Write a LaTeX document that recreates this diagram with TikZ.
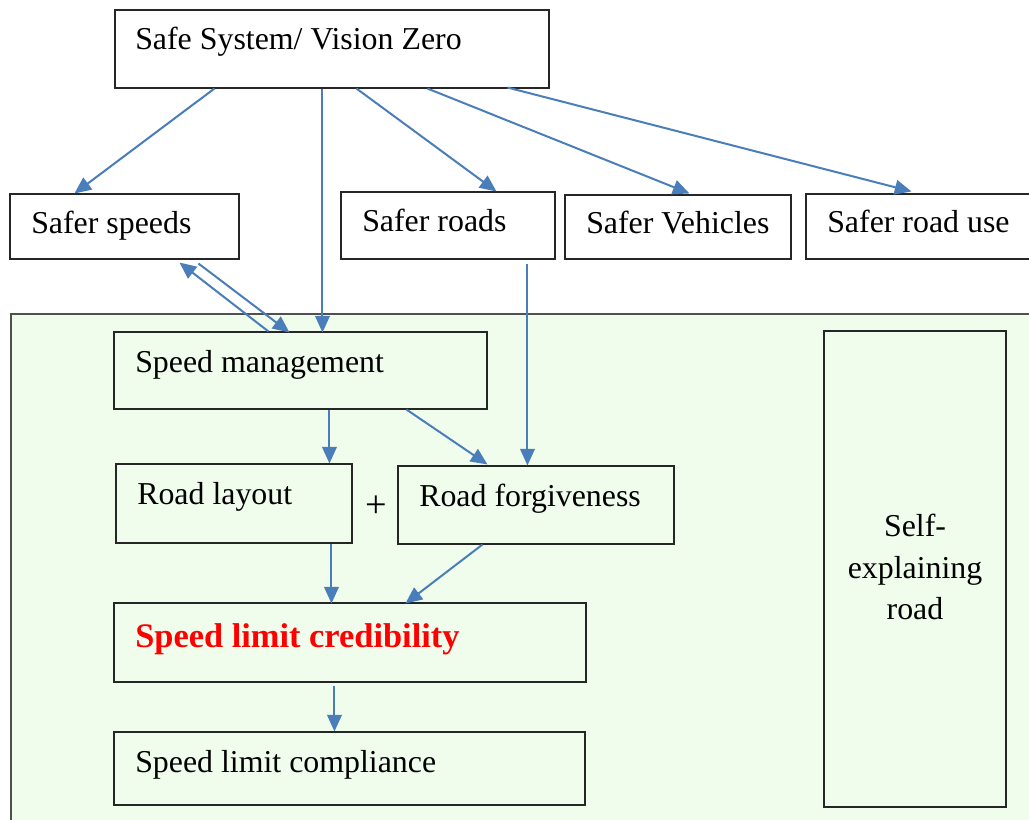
\documentclass[tikz,border=0pt]{standalone}
\usepackage{fontspec}
\setmainfont{Liberation Serif}
\usetikzlibrary{fit,calc,arrows.meta}
\definecolor{panelgreen}{RGB}{240,253,236}
\definecolor{arrowblue}{RGB}{74,126,187}
\definecolor{panelborder}{RGB}{80,80,80}
\tikzset{
  box/.style={draw=black!85, line width=0.8pt, rectangle, inner sep=0pt},
  whitebox/.style={box, fill=white},
  txt/.style={font=\fontsize{23.9pt}{28pt}\selectfont, inner sep=0pt, anchor=base west},
  ctxt/.style={txt, anchor=base},
  redtxt/.style={txt, font=\fontsize{25.8pt}{30pt}\selectfont\bfseries, text=red},
  conn/.style={draw=arrowblue, line width=1.5pt, -{Triangle[length=12.5pt,width=11pt]}}
}
\begin{document}
\begin{tikzpicture}[x=0.75pt,y=-0.75pt]
\clip (0,0) rectangle (1029,820);
\fill[white] (0,0) rectangle (1029,820);
% panel
\fill[panelgreen] (11,314) rectangle (1040,830);
\draw[panelborder, line width=1pt] (11,830) -- (11,314) -- (1040,314);

% top boxes
\node[whitebox, fit={(115,10) (549,88)}] (ss) {};
\node[txt] (ss-t) at (135,50) {Safe System/ Vision Zero};
\node[whitebox, fit={(10,194) (239,259)}] (sp) {};
\node[txt] (sp-t) at (31,234) {Safer speeds};
\node[whitebox, fit={(341,192) (555,259)}] (sr) {};
\node[txt] (sr-t) at (362,232) {Safer roads};
\node[whitebox, fit={(565,195) (791,259)}] (sv) {};
\node[txt] (sv-t) at (586,234) {Safer Vehicles};
\node[whitebox, fit={(806,194) (1040,259)}] (su) {};
\node[txt] (su-t) at (827,233) {Safer road use};

% inner boxes
\node[box, fit={(114,332) (487,409)}] (sm) {};
\node[txt] (sm-t) at (135,372) {Speed management};
\node[box, fit={(116,464) (352,543)}] (rl) {};
\node[txt] (rl-t) at (137,504) {Road layout};
\node[box, fit={(398,466) (674,544)}] (rf) {};
\node[txt] (rf-t) at (419,506) {Road forgiveness};
\node[ctxt, anchor=center, scale=1.2] (plus) at (376,507) {+};
\node[box, fit={(114,603) (586,682)}] (cr) {};
\node[redtxt] (cr-t) at (135,647) {Speed limit credibility};
\node[box, fit={(114,732) (585,805)}] (co) {};
\node[txt] (co-t) at (135,772) {Speed limit compliance};
\node[box, fit={(824,331) (1006,807)}] (se) {};
\node[ctxt] (se-t1) at (915,536) {Self-};
\node[ctxt] (se-t2) at (915,578) {explaining};
\node[ctxt] (se-t3) at (915,619) {road};

% connectors
\draw[conn] ($(ss.south west)+(100,0)$) -- ($(sp.north west)+(65,0)$);
\draw[conn] ($(ss.south west)+(208,0)$) -- ($(sm.north west)+(209,1)$);
\draw[conn] ($(ss.south west)+(242,0)$) -- ($(sr.north west)+(156,0)$);
\draw[conn] ($(ss.south west)+(313,0)$) -- ($(sv.north west)+(125,-1)$);
\draw[conn] ($(ss.south west)+(393,-1)$) -- ($(su.north west)+(106,-2)$);
\draw[conn] ($(sm.north west)+(155,0)$) -- ($(sp.south west)+(170,3)$);
\draw[conn] ($(sp.south west)+(189,4)$) -- ($(sm.north west)+(176,1)$);
\draw[conn] ($(sm.south west)+(216,0)$) -- ($(rl.north west)+(214,0)$);
\draw[conn] ($(sm.south west)+(293,0)$) -- ($(rf.north west)+(90,-1)$);
\draw[conn] ($(sr.south west)+(187,4)$) -- ($(rf.north west)+(130,0)$);
\draw[conn] ($(rl.south west)+(216,0)$) -- ($(cr.north west)+(218,1)$);
\draw[conn] ($(rf.south west)+(85,0)$) -- ($(cr.north west)+(292,1)$);
\draw[conn] ($(cr.south west)+(221,3)$) -- ($(co.north west)+(221,0)$);
\end{tikzpicture}
\end{document}
